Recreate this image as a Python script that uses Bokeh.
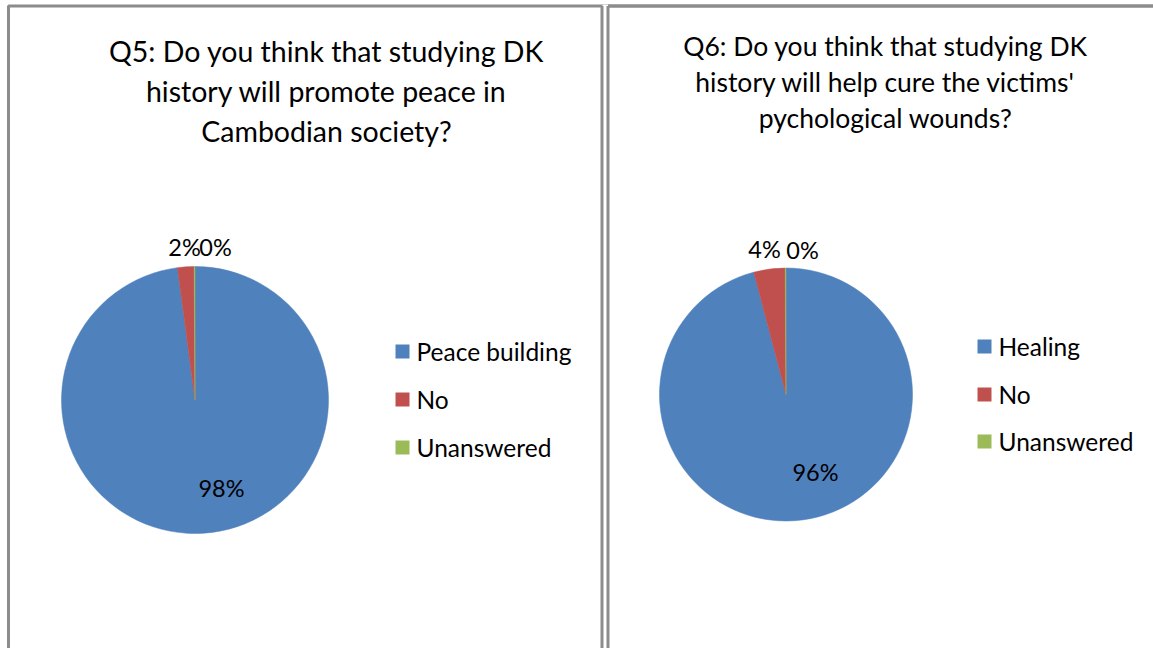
import numpy as np
from bokeh.plotting import figure
from bokeh.models import Range1d, ColumnDataSource
from bokeh.core.properties import value
from bokeh.embed import file_html
from bokeh.resources import INLINE

# ---- data ----
q5_title = ["Q5: Do you think that studying DK",
            "history will promote peace in",
            "Cambodian society?"]
q5_categories = ["Peace building", "No", "Unanswered"]
q5_values = [97.9, 2.0, 0.1]

q6_title = ["Q6: Do you think that studying DK",
            "history will help cure the victims'",
            "pychological wounds?"]
q6_categories = ["Healing", "No", "Unanswered"]
q6_values = [95.9, 4.0, 0.1]

colors = ["#4F81BD", "#C0504D", "#9BBB59"]

FONT = "Lato"
W, H = 1153, 648
p = figure(width=W, height=H, x_range=Range1d(0, W), y_range=Range1d(0, H),
           output_backend="svg", toolbar_location=None,
           x_axis_location=None, y_axis_location=None, min_border=0)
p.grid.visible = False
p.outline_line_color = None
p.background_fill_color = "white"


def Y(sy):
    return H - sy


# panel borders
p.quad(left=[8, 602], right=[1190, 1190], top=[Y(5.5), Y(5.5)], bottom=[Y(700), Y(700)],
       fill_color=None, line_color="#8c8c8c", line_width=3)
p.quad(left=[602], right=[607.5], top=[Y(4)], bottom=[Y(700)],
       fill_color="white", line_color=None)
p.segment(x0=[601.5, 607.5], y0=[Y(5.5), Y(5.5)], x1=[601.5, 607.5], y1=[Y(700), Y(700)],
          line_color="#8c8c8c", line_width=3)


def pie(cx, cy, r, vals, cats, title, title_cx, title_ys, title_size,
        label_pos, leg_x, leg_ys, leg_size, lab_size):
    v = np.array(vals, dtype=float)
    frac = v / v.sum()
    cum = np.concatenate([[0], np.cumsum(frac)])
    start = np.pi / 2 - 2 * np.pi * cum[:-1]
    end = np.pi / 2 - 2 * np.pi * cum[1:]
    src = ColumnDataSource(dict(start=start, end=end, color=colors))
    p.wedge(x=cx, y=Y(cy), radius=r, start_angle="start", end_angle="end",
            direction="clock", fill_color="color", line_color="color", line_width=0.5,
            source=src)
    # percentage labels
    labels = [f"{int(round(x))}%" for x in v]
    p.text(x=[lp[0] for lp in label_pos], y=[Y(lp[1]) for lp in label_pos], text=labels,
           text_align="center", text_baseline="middle", text_font=value(FONT),
           text_font_size=f"{lab_size}px", text_color="black")
    # title
    p.text(x=[title_cx] * len(title), y=[Y(t) for t in title_ys], text=title,
           text_align="center", text_baseline="middle", text_font=value(FONT),
           text_font_size=f"{title_size}px", text_color="black")
    # legend
    p.rect(x=[leg_x] * len(cats), y=[Y(t) for t in leg_ys], width=14, height=14,
           width_units="screen", height_units="screen", fill_color=colors, line_color=None)
    p.text(x=[leg_x + 14] * len(cats), y=[Y(t) for t in leg_ys], text=cats,
           text_align="left", text_baseline="middle", text_font=value(FONT),
           text_font_size=f"{leg_size}px", text_color="black")


pie(194.5, 399.5, 133.5, q5_values, q5_categories, q5_title, 326, [50, 90, 130], 28.5,
    [(221, 487), (184, 246), (215, 246)], 402, [351, 399, 447], 24.5, 23.5)
pie(785.5, 394, 126.5, q6_values, q6_categories, q6_title, 885, [45, 81, 117], 26.5,
    [(815, 471), (764, 248), (802, 249)], 984, [346, 394, 441], 24.5, 23.5)

open("out.html", "w").write(file_html(p, INLINE))
